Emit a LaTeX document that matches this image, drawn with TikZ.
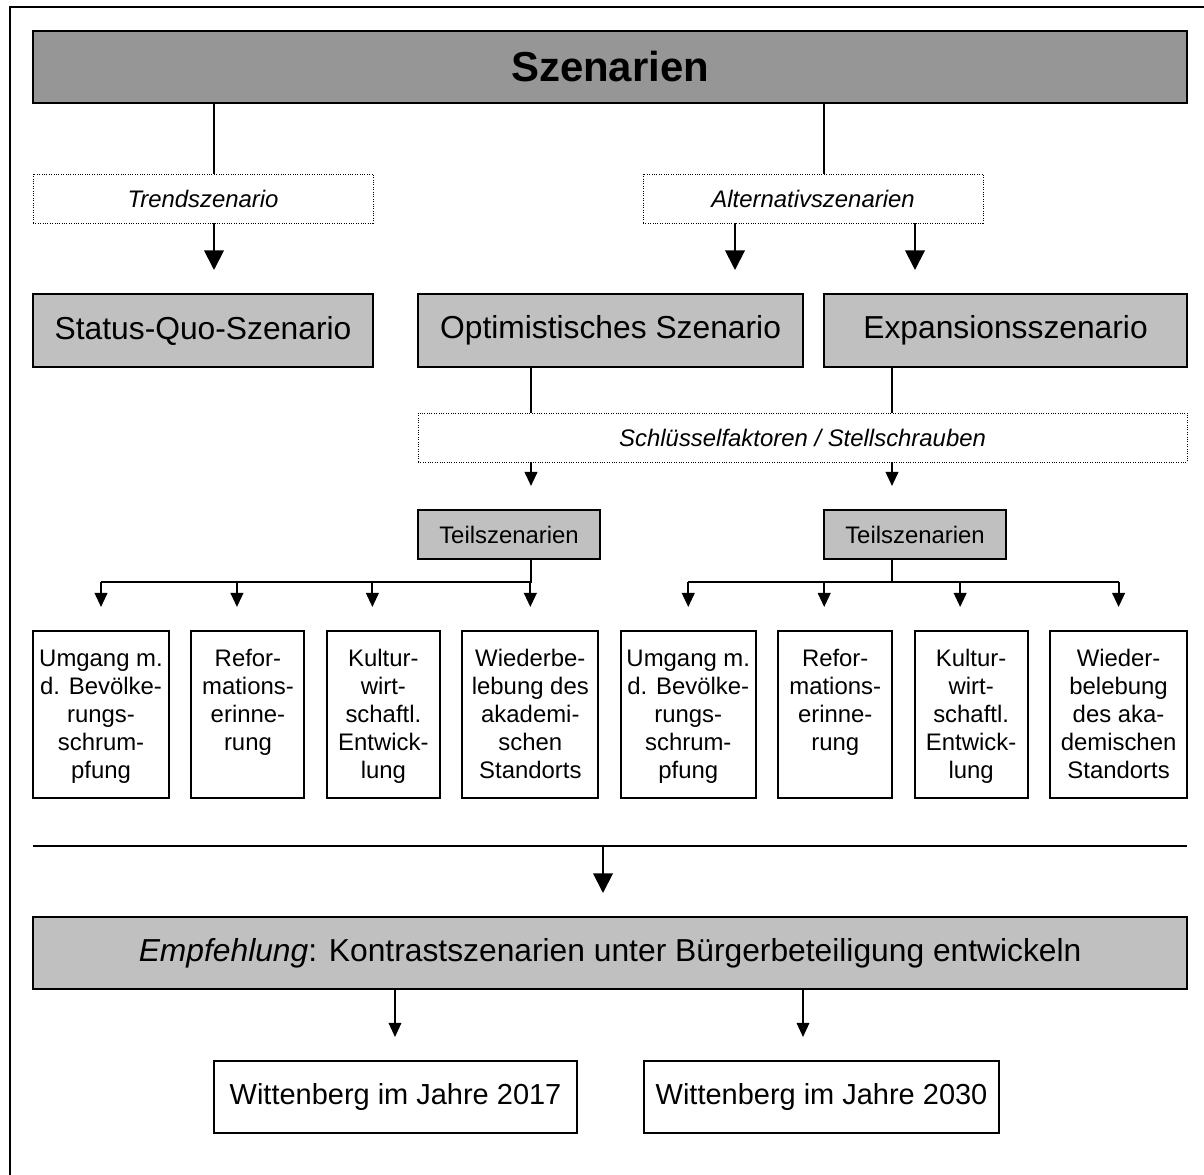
\documentclass[tikz,border=0pt]{standalone}
\usepackage{fontspec}
\setmainfont{Liberation Sans}
\usepackage{xcolor}
\usepackage{tikz}
\usetikzlibrary{positioning, arrows.meta}

\definecolor{titlegrey}{RGB}{150,150,150}
\definecolor{boxgrey}{RGB}{192,192,192}

\newcommand{\bigfont}{\fontsize{22.6}{27}\selectfont}
\newcommand{\smallfont}{\fontsize{17}{19.9}\selectfont}

\begin{document}
\begin{tikzpicture}[x=0.025cm, y=-0.025cm, line width=1.4pt, every node/.style={outer sep=0pt},
    greybox/.style={draw, fill=boxgrey, rectangle, anchor=north west, inner sep=0pt, font=\bigfont},
    plainbox/.style={draw, rectangle, anchor=north west, inner sep=0pt, minimum height=1.8cm, font=\fontsize{20.6}{24}\selectfont},
    dotbox/.style={draw, densely dotted, line width=0.7pt, rectangle, anchor=north west, inner sep=0pt, minimum height=1.225cm, font=\smallfont\itshape},
    leafbox/.style={draw, rectangle, inner sep=0pt, minimum height=4.175cm, align=center, font=\smallfont,
        text height=97.6pt, text depth=6pt},
    bigarr/.style={-{Triangle[width=14pt,length=14pt]}, shorten >=0.6cm},
    smallarr/.style={-{Triangle[width=9pt,length=10pt]}, shorten >=0.6cm}]
    \useasboundingbox (0,0) rectangle (1204,1175);
    \draw (10,1175) -- (10,7) -- (1204,7);

    % Nodes
    \node[greybox, fill=titlegrey, minimum width=28.85cm, minimum height=1.8cm, font=\fontsize{29.8}{34}\selectfont\bfseries] (title) at (33,31) {Szenarien};
    \node[dotbox, minimum width=8.5cm] (trend) at (33,174) {Trendszenario};
    \node[dotbox, minimum width=8.5cm] (alt) at (643,174) {Alternativszenarien};
    \node[greybox, minimum width=8.5cm, minimum height=1.825cm] (sq) at (33,294) {Status-Quo-Szenario};
    \node[greybox, minimum width=9.625cm, minimum height=1.825cm] (opt) at (418,294) {Optimistisches Szenario};
    \node[greybox, minimum width=9.075cm, minimum height=1.825cm] (exp) at (824,294) {Expansionsszenario};
    \node[dotbox, minimum width=19.225cm] (key) at (418,413) {Schlüsselfaktoren / Stellschrauben};
    \node[greybox, minimum width=4.55cm, minimum height=1.225cm, font=\smallfont] (teilL) at (418,510) {Teilszenarien};
    \node[greybox, minimum width=4.55cm, minimum height=1.225cm, font=\smallfont] (teilR) at (824,510) {Teilszenarien};

    \node[leafbox, minimum width=3.4cm, anchor=north west] (l1) at (33,631) {Umgang m.\\d. Bevölke-\\rungs-\\schrum-\\pfung};
    \node[leafbox, minimum width=2.825cm, right=0.56cm of l1] (l2) {Refor-\\mations-\\erinne-\\rung\\\strut};
    \node[leafbox, minimum width=2.825cm, right=0.56cm of l2] (l3) {Kultur-\\wirt-\\schaftl.\\Entwick-\\lung};
    \node[leafbox, minimum width=3.4cm, right=0.56cm of l3] (l4) {Wiederbe-\\lebung des\\akademi-\\schen\\Standorts};
    \node[leafbox, minimum width=3.375cm, right=0.56cm of l4] (r1) {Umgang m.\\d. Bevölke-\\rungs-\\schrum-\\pfung};
    \node[leafbox, minimum width=2.85cm, right=0.56cm of r1] (r2) {Refor-\\mations-\\erinne-\\rung\\\strut};
    \node[leafbox, minimum width=2.825cm, right=0.56cm of r2] (r3) {Kultur-\\wirt-\\schaftl.\\Entwick-\\lung};
    \node[leafbox, minimum width=3.425cm, right=0.56cm of r3] (r4) {Wieder-\\belebung\\des aka-\\demischen\\Standorts};

    \coordinate (sepL) at (33,846);
    \coordinate (sepR) at (1187,846);
    \coordinate (sepM) at (603,846);
    \node[greybox, minimum width=28.85cm, minimum height=1.8cm] (emp) at (33,917) {\textit{Empfehlung}: Kontrastszenarien unter Bürgerbeteiligung entwickeln};
    \node[plainbox, minimum width=9.075cm] (w17) at (214,1061) {Wittenberg im Jahre 2017};
    \node[plainbox, minimum width=8.875cm] (w30) at (644,1061) {Wittenberg im Jahre 2030};

    % Columns
    \coordinate (cTrend) at (214,0);
    \coordinate (cAlt) at (824,0);
    \coordinate (cOpt) at (735,0);
    \coordinate (cExp) at (915,0);
    \coordinate (cTeilL) at (531,0);
    \coordinate (cTeilR) at (892,0);
    \coordinate (c2017) at (395,0);
    \coordinate (c2030) at (803,0);
    \coordinate (barL) at (0,582);

    % Connections
    \draw (title.south -| cTrend) -- (trend.north -| cTrend);
    \draw[bigarr] (trend.south -| cTrend) -- (sq.north -| cTrend);
    \draw (title.south -| cAlt) -- (alt.north -| cAlt);
    \draw[bigarr] (alt.south -| cOpt) -- (opt.north -| cOpt);
    \draw[bigarr] (alt.south -| cExp) -- (exp.north -| cExp);
    \draw (opt.south -| cTeilL) -- (key.north -| cTeilL);
    \draw (exp.south -| cTeilR) -- (key.north -| cTeilR);
    \draw[smallarr] (key.south -| cTeilL) -- (teilL.north -| cTeilL);
    \draw[smallarr] (key.south -| cTeilR) -- (teilR.north -| cTeilR);
    \draw (teilL.south -| cTeilL) -- (barL -| cTeilL) -- (barL -| l1);
    \draw (teilR.south -| cTeilR) -- (barL -| cTeilR);
    \draw (barL -| r1) -- (barL -| r4);
    \foreach \leaf/\dx in {l1/0pt, l2/-0.275cm, l3/-0.275cm, l4/0pt, r1/0pt, r2/-0.275cm, r3/-0.275cm, r4/0pt}
        \draw[smallarr, transform canvas={xshift=\dx}] (barL -| \leaf.north) -- (\leaf.north);
    \draw (sepL) -- (sepR);
    \draw[bigarr] (sepM) -- (emp.north -| sepM);
    \draw[smallarr, line width=1pt] (emp.south -| c2017) -- (w17.north -| c2017);
    \draw[smallarr, line width=1pt] (emp.south -| c2030) -- (w30.north -| c2030);
\end{tikzpicture}
\end{document}
